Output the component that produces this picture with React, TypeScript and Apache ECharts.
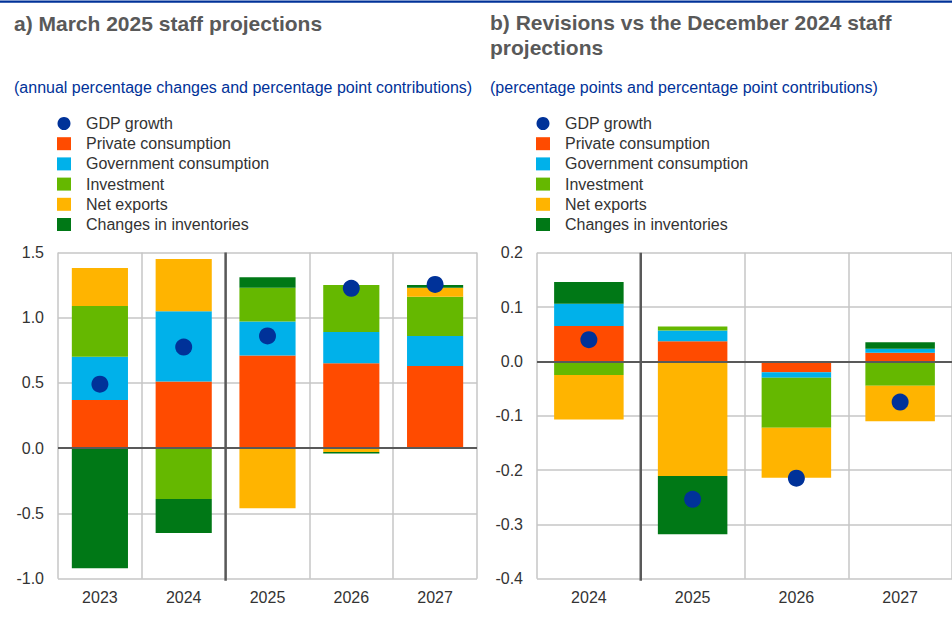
import React, { useEffect, useRef } from "react";
import * as echarts from "echarts";

const categoriesA = ["2023", "2024", "2025", "2026", "2027"];
const gdpA = [0.49, 0.775, 0.86, 1.225, 1.255];
const privA = [0.37, 0.51, 0.71, 0.65, 0.63];
const govA = [0.33, 0.54, 0.26, 0.24, 0.23];
const invA = [0.39, -0.39, 0.26, 0.36, 0.3];
const netA = [0.29, 0.4, -0.46, -0.03, 0.07];
const stockA = [-0.92, -0.26, 0.08, -0.01, 0.02];

const categoriesB = ["2024", "2025", "2026", "2027"];
const gdpB = [0.04, -0.254, -0.215, -0.075];
const privB = [0.065, 0.037, -0.02, 0.016];
const govB = [0.041, 0.02, -0.01, 0.007];
const invB = [-0.025, 0.007, -0.092, -0.045];
const netB = [-0.082, -0.211, -0.092, -0.065];
const stockB = [0.04, -0.107, 0, 0.012];

const seriesNames = [
  "GDP growth",
  "Private consumption",
  "Government consumption",
  "Investment",
  "Net exports",
  "Changes in inventories",
];
const colors = ["#003299", "#ff4b00", "#00b1ea", "#65b800", "#ffb400", "#007816"];

const FONT = "'Liberation Sans', Arial, sans-serif";
const GRID_COLOR = "#c6c6c6";
const DARK = "#595959";

export default function App() {
  const ref = useRef<HTMLDivElement>(null);
  useEffect(() => {
    document.body.style.margin = "0";
    const chart = echarts.init(ref.current!, null, { renderer: "svg" });

    const makeBars = (idx: number, stack: string, arrays: number[][]) =>
      arrays.map((arr, i) => ({
        type: "bar",
        name: seriesNames[i + 1],
        stack,
        xAxisIndex: idx,
        yAxisIndex: idx,
        barCategoryGap: "33%",
        itemStyle: { color: colors[i + 1] },
        data: arr,
        z: 2,
        markLine:
          i === 0
            ? {
                silent: true,
                symbol: "none",
                label: { show: false },
                lineStyle: { color: DARK, width: 2, type: "solid" },
                data: [{ yAxis: 0 }],
                z: 5,
              }
            : undefined,
      }));

    const scatter = (idx: number, arr: number[]) => ({
      type: "scatter",
      name: seriesNames[0],
      xAxisIndex: idx,
      yAxisIndex: idx,
      symbolSize: 17,
      itemStyle: { color: colors[0], opacity: 1 },
      data: arr,
      z: 10,
    });

    const legendData = seriesNames.map((n, i) => ({
      name: n,
      icon: i === 0 ? "circle" : "rect",
    }));
    const legendBase = {
      orient: "vertical",
      top: 115.5,
      padding: 0,
      itemWidth: 14,
      itemHeight: 13,
      itemGap: 4.2,
      data: legendData,
      selectedMode: false,
      textStyle: {
        fontFamily: FONT,
        fontSize: 16,
        lineHeight: 16,
        color: "#333333",
        padding: [0, 0, 0, 10],
      },
    };

    const xAxisBase = (cats: string[], gridIndex: number) => ({
      type: "category",
      gridIndex,
      data: cats,
      axisLine: { show: false, onZero: false },
      axisTick: { show: false },
      axisLabel: { fontFamily: FONT, fontSize: 16, color: "#333333", margin: 11 },
      splitLine: { show: true, lineStyle: { color: GRID_COLOR, width: 1.5 } },
    });
    const yAxisBase = (gridIndex: number, min: number, max: number, interval: number) => ({
      type: "value",
      gridIndex,
      min,
      max,
      interval,
      axisLine: { show: false },
      axisTick: { show: false },
      axisLabel: {
        fontFamily: FONT,
        fontSize: 16,
        color: "#333333",
        margin: 14,
        formatter: (v: number) => v.toFixed(1),
      },
      splitLine: { show: true, lineStyle: { color: GRID_COLOR, width: 1.5 } },
    });

    chart.setOption({
      animation: false,
      color: colors,
      grid: [
        { left: 58, top: 252.4, width: 419, height: 326.3 },
        { left: 537, top: 252.7, width: 416, height: 326 },
      ],
      legend: [
        { ...legendBase, left: 57 },
        { ...legendBase, left: 536 },
      ],
      xAxis: [xAxisBase(categoriesA, 0), xAxisBase(categoriesB, 1)],
      yAxis: [yAxisBase(0, -1, 1.5, 0.5), yAxisBase(1, -0.4, 0.2, 0.1)],
      series: [
        scatter(0, gdpA),
        ...makeBars(0, "A", [privA, govA, invA, netA, stockA]),
        scatter(1, gdpB),
        ...makeBars(1, "B", [privB, govB, invB, netB, stockB]),
      ],
    });

    const divider = (idx: number, c1: string, c2: string, yTop: number, yBot: number) => {
      const x1 = chart.convertToPixel({ xAxisIndex: idx } as any, c1) as number;
      const x2 = chart.convertToPixel({ xAxisIndex: idx } as any, c2) as number;
      const yt = chart.convertToPixel({ yAxisIndex: idx } as any, yTop) as number;
      const yb = chart.convertToPixel({ yAxisIndex: idx } as any, yBot) as number;
      const x = (x1 + x2) / 2;
      return {
        type: "line",
        shape: { x1: x, y1: yt, x2: x, y2: yb + 2 },
        style: { stroke: DARK, lineWidth: 2.5 },
        z: 20,
      };
    };

    const text = (t: string, x: number, y: number, size: number, color: string, bold = false) => ({
      type: "text",
      x,
      y,
      style: {
        text: t,
        fill: color,
        font: `${bold ? "bold " : ""}${size}px ${FONT}`,
        textAlign: "left",
        textVerticalAlign: "middle",
        align: "left",
        verticalAlign: "middle",
      },
    });

    chart.setOption({
      graphic: [
        { type: "rect", shape: { x: 0, y: 0.5, width: 952, height: 2.2 }, style: { fill: "#003299" } },
        text("a) March 2025 staff projections", 14, 23, 21, "#595959", true),
        text("(annual percentage changes and percentage point contributions)", 14, 87.5, 16, "#003299"),
        text("b) Revisions vs the December 2024 staff", 490, 22.7, 21, "#595959", true),
        text("projections", 490, 47.3, 21, "#595959", true),
        text("(percentage points and percentage point contributions)", 490, 87.5, 16, "#003299"),
        divider(0, "2024", "2025", 1.5, -1.0),
        divider(1, "2024", "2025", 0.2, -0.4),
      ],
    });

    return () => chart.dispose();
  }, []);
  return <div ref={ref} style={{ width: 952, height: 622 }} />;
}
